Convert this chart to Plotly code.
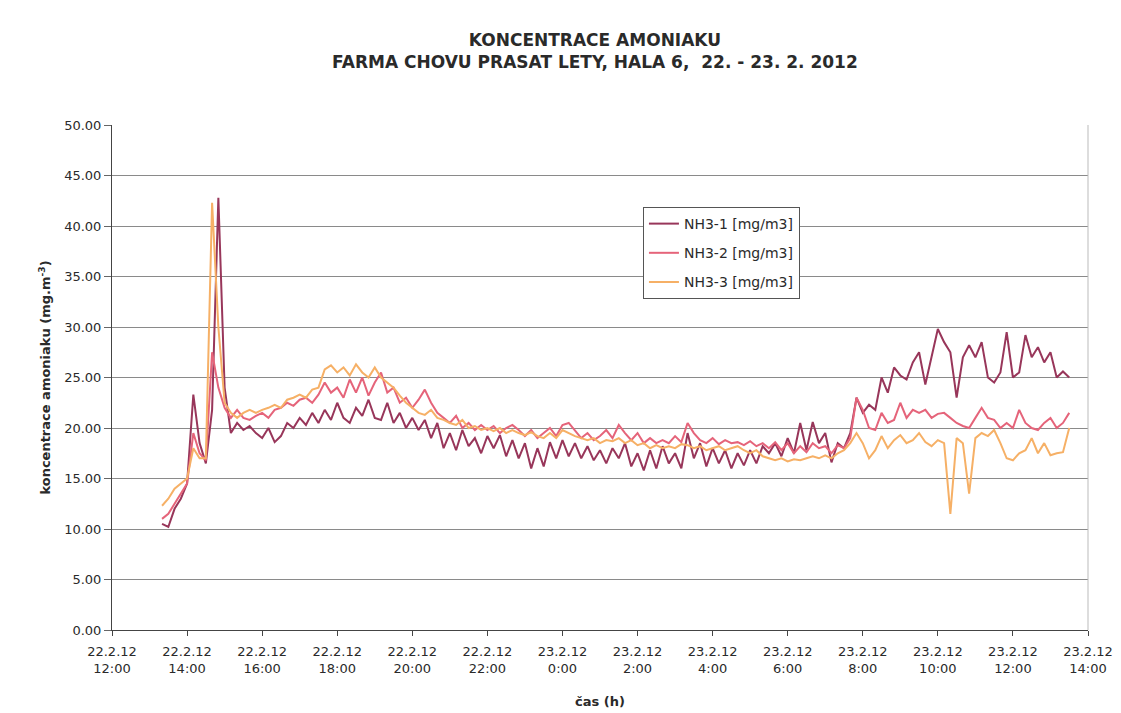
import pandas as pd
import plotly.graph_objects as go

# 10-minute samples, 22.2.2012 13:20 -> 23.2.2012 13:30
start_time = "2012-02-22 13:20"
n_points = 146

nh3_1 = [
    10.5, 10.2, 12.0, 13.0,
    14.5, 23.3, 18.5, 16.5, 21.8, 42.8,
    24.0, 19.5, 20.5, 19.8, 20.2, 19.5,
    19.0, 20.0, 18.6, 19.2, 20.5, 20.0,
    21.0, 20.3, 21.5, 20.5, 21.8, 20.8,
    22.5, 21.0, 20.5, 22.0, 21.2, 22.8,
    21.0, 20.8, 22.5, 20.5, 21.5, 20.0,
    21.0, 19.8, 20.8, 19.0, 20.5, 18.0,
    19.5, 17.8, 19.8, 18.2, 19.0, 17.5,
    19.2, 18.0, 19.3, 17.2, 18.8, 17.0,
    18.5, 16.0, 18.0, 16.2, 18.6, 17.0,
    18.8, 17.2, 18.5, 17.0, 18.2, 16.8,
    17.8, 16.5, 18.0, 17.0, 18.5, 16.2,
    17.5, 15.8, 17.8, 16.0, 18.2, 16.5,
    17.5, 16.0, 19.5, 17.0, 18.5, 16.2,
    18.0, 16.5, 17.8, 16.0, 17.5, 16.3,
    17.8, 16.5, 18.2, 17.5, 18.5, 17.2,
    19.0, 17.5, 20.5, 17.8, 20.6, 18.5,
    19.5, 16.6, 18.5, 18.0, 19.5, 23.0,
    21.5, 22.3, 21.8, 25.0, 23.5, 26.0,
    25.2, 24.8, 26.5, 27.5, 24.3, 27.0,
    29.8, 28.5, 27.5, 23.0, 27.0, 28.2,
    27.0, 28.5, 25.0, 24.5, 25.5, 29.5,
    25.0, 25.5, 29.2, 27.0, 28.0, 26.5,
    27.5, 25.0, 25.6, 25.0,
]

nh3_2 = [
    11.0, 11.5, 12.5, 13.5,
    14.5, 19.5, 17.5, 16.8, 27.5, 24.0,
    22.0, 21.0, 21.8, 21.0, 20.8, 21.2,
    21.5, 21.0, 21.8, 22.0, 22.5, 22.2,
    22.8, 23.0, 22.5, 23.3, 24.5, 23.5,
    24.0, 23.0, 24.8, 23.5, 25.0, 23.2,
    24.5, 25.5, 23.5, 24.0, 22.5, 23.0,
    22.0, 22.8, 23.8, 22.5, 21.5, 21.0,
    20.5, 21.2, 20.0, 20.5, 19.8, 20.3,
    19.8, 20.2, 19.5, 20.0, 20.3, 19.8,
    19.2, 19.8, 19.0, 19.5, 20.0, 19.2,
    20.3, 20.5, 19.8, 19.0, 19.5, 18.8,
    19.2, 19.8, 19.0, 20.3, 19.5, 18.8,
    19.5, 18.5, 19.0, 18.5, 18.8, 18.5,
    19.2, 18.6, 20.5, 19.5, 18.8, 18.5,
    19.0, 18.4, 18.8, 18.5, 18.6, 18.3,
    18.7, 18.2, 18.5, 18.0, 18.6, 17.8,
    18.5, 17.5, 18.2, 17.6, 18.5, 18.0,
    18.2, 17.5, 18.3, 18.0, 19.0, 23.0,
    21.8, 20.0, 19.8, 21.5, 20.5, 20.8,
    22.5, 21.0, 21.8, 21.5, 21.8, 21.0,
    21.4, 21.5, 21.0, 20.5, 20.2, 20.0,
    21.0, 22.0, 21.0, 20.8, 20.0, 20.5,
    20.0, 21.8, 20.5, 20.0, 19.8, 20.5,
    21.0, 20.0, 20.5, 21.5,
]

nh3_3 = [
    12.3, 13.0, 14.0, 14.5,
    15.0, 18.0, 17.0, 17.0, 42.3, 30.0,
    22.5, 21.5, 21.0, 21.5, 21.8, 21.5,
    21.8, 22.0, 22.3, 22.0, 22.8, 23.0,
    23.3, 23.0, 23.8, 24.0, 25.8, 26.2,
    25.5, 26.0, 25.2, 26.3, 25.5, 25.0,
    26.0, 25.0, 24.5, 24.0, 23.2, 22.5,
    22.0, 21.5, 21.3, 21.8, 21.0, 20.8,
    20.5, 20.3, 20.8, 20.0, 20.2, 19.8,
    20.0, 19.7, 20.0, 19.5, 19.8, 19.5,
    19.3, 19.6, 19.2, 19.0, 19.5, 19.0,
    19.8, 19.5, 19.2, 19.0, 18.8, 19.0,
    18.5, 18.8, 18.7, 19.0, 18.5, 18.8,
    18.3, 18.5, 18.0, 18.3, 18.0, 18.2,
    18.0, 18.4, 18.3, 18.0, 18.2, 17.8,
    18.0, 18.2, 17.8, 18.0, 18.2, 17.8,
    17.5, 17.8, 17.2, 17.0, 16.8, 17.0,
    16.7, 16.9, 16.8, 17.0, 17.2, 17.0,
    17.3, 17.0, 17.5, 17.8, 18.5, 19.5,
    18.5, 17.0, 17.8, 19.2, 18.0, 18.8,
    19.3, 18.5, 18.8, 19.5, 18.6, 18.2,
    18.8, 18.5, 11.5, 19.0, 18.5, 13.5,
    19.0, 19.5, 19.2, 19.8, 18.5, 17.0,
    16.8, 17.5, 17.8, 19.0, 17.5, 18.5,
    17.3, 17.5, 17.6, 20.0,
]

series_names = ["NH3-1 [mg/m3]", "NH3-2 [mg/m3]", "NH3-3 [mg/m3]"]
series_colors = ["#98365a", "#e5647a", "#f6b066"]

tick_times = [
    "2012-02-22 12:00", "2012-02-22 14:00", "2012-02-22 16:00", "2012-02-22 18:00",
    "2012-02-22 20:00", "2012-02-22 22:00", "2012-02-23 00:00", "2012-02-23 02:00",
    "2012-02-23 04:00", "2012-02-23 06:00", "2012-02-23 08:00", "2012-02-23 10:00",
    "2012-02-23 12:00", "2012-02-23 14:00",
]
tick_labels = [
    "22.2.12<br>12:00", "22.2.12<br>14:00", "22.2.12<br>16:00", "22.2.12<br>18:00",
    "22.2.12<br>20:00", "22.2.12<br>22:00", "23.2.12<br>0:00", "23.2.12<br>2:00",
    "23.2.12<br>4:00", "23.2.12<br>6:00", "23.2.12<br>8:00", "23.2.12<br>10:00",
    "23.2.12<br>12:00", "23.2.12<br>14:00",
]
y_ticks = [0, 5, 10, 15, 20, 25, 30, 35, 40, 45, 50]
y_labels = ["%.2f" % v for v in y_ticks]

times = pd.date_range(start_time, periods=n_points, freq="10min")

fig = go.Figure()
for i, (vals, name, col) in enumerate(zip([nh3_1, nh3_2, nh3_3], series_names, series_colors)):
    fig.add_trace(go.Scatter(
        x=times, y=vals, mode="lines", name=name,
        line=dict(color=col, width=2),
        legendgroup="g%d" % i,
    ))

font_family = "DejaVu Sans, Arial, sans-serif"
text_color = "#2a2a2a"
fig.update_layout(
    width=1121, height=713,
    paper_bgcolor="white", plot_bgcolor="white",
    margin=dict(l=104, r=41, t=117, b=91),
    font=dict(family=font_family, size=13, color=text_color),
    title=dict(
        text="<b>KONCENTRACE AMONIAKU<br>FARMA CHOVU PRASAT LETY, HALA 6,  22. - 23. 2. 2012</b>",
        x=0.5236, xanchor="center", y=0.9467, yanchor="middle",
        font=dict(size=17, color=text_color),
    ),
    legend=dict(
        x=0.544, y=0.8376, xanchor="left", yanchor="top",
        bgcolor="white", bordercolor="#555555", borderwidth=1,
        font=dict(size=14, color=text_color),
        tracegroupgap=8,
        itemwidth=30,
    ),
    showlegend=True,
)
fig.update_xaxes(
    type="date",
    range=[tick_times[0], tick_times[-1]],
    tickmode="array", tickvals=tick_times, ticktext=tick_labels,
    showgrid=False,
    showline=True, linecolor="#444444", linewidth=1,
    ticks="outside", ticklen=5, tickcolor="#444444",
    ticklabelstandoff=4,
    tickfont=dict(size=13, color=text_color),
    title=dict(text="<b>čas (h)</b>", font=dict(size=13, color=text_color), standoff=22),
    zeroline=False,
)
fig.update_yaxes(
    range=[0, 50],
    tickmode="array", tickvals=y_ticks, ticktext=y_labels,
    showgrid=True, gridcolor="#8a8a8a", gridwidth=1,
    showline=True, linecolor="#444444", linewidth=1,
    ticks="outside", ticklen=7, tickcolor="#666666",
    tickfont=dict(size=13, color=text_color),
    title=dict(text="<b>koncentrace amoniaku (mg.m<sup>-3</sup>)</b>", font=dict(size=13, color=text_color), standoff=10),
    zeroline=False,
)
fig.add_shape(type="line", xref="paper", yref="paper", x0=1, x1=1, y0=0, y1=1,
              line=dict(color="#bbbbbb", width=1))

fig.write_html("out.html")
